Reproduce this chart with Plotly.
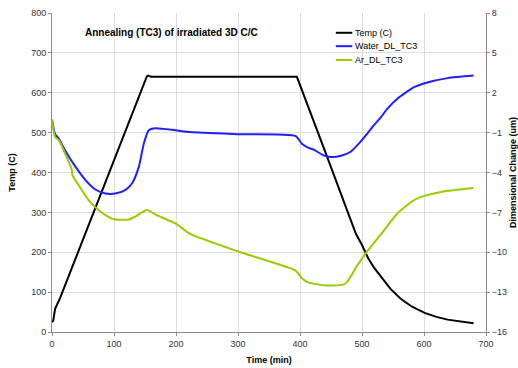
import plotly.graph_objects as go

# Temperature (C), left axis
temp_t = [0, 2, 5, 8, 13, 153, 155, 160, 395, 440, 465, 490, 500, 510, 520, 530, 546, 562, 580, 601, 620, 638, 660, 680]
temp_v = [25, 28, 58, 70, 85, 641, 643, 640, 640, 455, 350, 247, 218, 185, 160, 141, 108, 84, 64, 48, 38, 31, 26, 22]

# Water_DL_TC3 (um), right axis
water_t = [0, 5, 11, 21, 38, 54, 70, 86, 102, 118, 129, 140, 148, 156, 167, 199, 223, 304, 393, 403, 414, 422, 438, 449, 465, 481, 497, 519, 530, 541, 557, 584, 601, 638, 680]
water_v = [-0.03, -1.12, -1.45, -2.32, -3.58, -4.57, -5.28, -5.58, -5.58, -5.32, -4.83, -3.58, -1.84, -0.82, -0.67, -0.82, -0.96, -1.12, -1.27, -1.83, -2.14, -2.28, -2.71, -2.83, -2.76, -2.46, -1.71, -0.46, 0.13, 0.80, 1.55, 2.42, 2.72, 3.10, 3.29]

# Ar_DL_TC3 (um), right axis
ar_t = [0, 5, 11, 21, 32, 33, 43, 59, 75, 91, 102, 124, 134, 153, 169, 199, 223, 304, 393, 403, 414, 444, 473, 492, 508, 530, 557, 584, 601, 638, 680]
ar_v = [-0.04, -1.33, -1.57, -2.56, -3.82, -4.20, -4.96, -6.07, -6.82, -7.33, -7.53, -7.53, -7.33, -6.82, -7.21, -7.83, -8.62, -10.0, -11.38, -11.95, -12.28, -12.50, -12.37, -11.02, -9.96, -8.68, -7.08, -6.07, -5.76, -5.38, -5.16]

series_names = ["Temp (C)", "Water_DL_TC3", "Ar_DL_TC3"]
series_colors = ["#000000", "#1f1fff", "#99cc00"]

left_ticks = [0, 100, 200, 300, 400, 500, 600, 700, 800]
right_ticks = [-16, -13, -10, -7, -4, -1, 2, 5, 8]
x_ticks = [0, 100, 200, 300, 400, 500, 600, 700]

FONT = "Liberation Sans, Arial, sans-serif"
AX = "#8c8c8c"
GRID = "#dcdcdc"
TXT = "#333333"

fig = go.Figure()
fig.add_trace(go.Scatter(x=temp_t, y=temp_v, mode="lines", name=series_names[0],
                         line=dict(color=series_colors[0], width=2)))
fig.add_trace(go.Scatter(x=water_t, y=water_v, mode="lines", name=series_names[1],
                         line=dict(color=series_colors[1], width=2, shape="spline", smoothing=0.6),
                         yaxis="y2"))
fig.add_trace(go.Scatter(x=ar_t, y=ar_v, mode="lines", name=series_names[2],
                         line=dict(color=series_colors[2], width=2, shape="spline", smoothing=0.6),
                         yaxis="y2"))

# compact legend (keys drawn in paper space, like the original's small legend box)
shapes = [dict(type="rect", xref="paper", yref="paper", x0=0.636, x1=0.82, y0=0.828, y1=0.962,
               fillcolor="white", line=dict(width=0), layer="between")]
annotations = []
row_y = [0.938, 0.896, 0.853]
for name, col, yy in zip(series_names, series_colors, row_y):
    shapes.append(dict(type="line", xref="paper", yref="paper", x0=0.654, x1=0.692, y0=yy, y1=yy,
                       line=dict(color=col, width=2), layer="above"))
    annotations.append(dict(text=name, xref="paper", yref="paper", x=0.694, y=yy,
                            xanchor="left", yanchor="middle", showarrow=False,
                            font=dict(size=9, color="#000000", family=FONT)))

annotations.append(dict(text="<b>Annealing (TC3) of irradiated 3D C/C</b>",
                        xref="paper", yref="paper", x=0.275, y=0.94,
                        xanchor="center", yanchor="middle", showarrow=False,
                        font=dict(size=10, color="#000000", family=FONT)))

fig.update_layout(
    width=518, height=368,
    margin=dict(l=52, r=32, t=13, b=36),
    paper_bgcolor="white", plot_bgcolor="white",
    font=dict(family=FONT, size=9, color=TXT),
    showlegend=False,
    xaxis=dict(range=[0, 700], tickvals=x_ticks, showgrid=True, gridcolor=GRID,
               showline=True, linecolor=AX, linewidth=1, ticks="outside", ticklen=3,
               tickcolor=AX, zeroline=False, automargin=False,
               title=dict(text="<b>Time (min)</b>", standoff=8, font=dict(size=9, color="#000000"))),
    yaxis=dict(range=[0, 800], tickvals=left_ticks, showgrid=True, gridcolor=GRID,
               showline=True, linecolor=AX, linewidth=1, ticks="outside", ticklen=3,
               tickcolor=AX, zeroline=False, automargin=False,
               title=dict(text="<b>Temp (C)</b>", standoff=14, font=dict(size=9, color="#000000"))),
    yaxis2=dict(range=[-16, 8], tickvals=right_ticks, overlaying="y", side="right",
                showgrid=False, showline=True, linecolor=AX, linewidth=1,
                ticks="outside", ticklen=3, tickcolor=AX, zeroline=False, automargin=False,
                title=dict(text="<b>Dimensional Change (um)</b>", standoff=8,
                           font=dict(size=9, color="#000000"))),
    shapes=shapes,
    annotations=annotations,
)

fig.write_html("out.html")
